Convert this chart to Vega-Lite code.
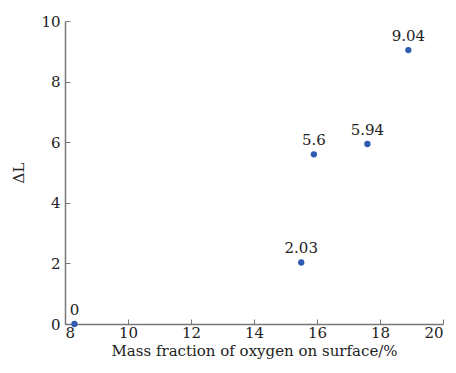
{
  "$schema": "https://vega.github.io/schema/vega-lite/v6.json",
  "width": 378,
  "height": 303,
  "autosize": {"type": "none"},
  "padding": {"left": 65, "top": 21, "right": 13, "bottom": 49},
  "background": "white",
  "config": {
    "view": {"stroke": null},
    "font": "DejaVu Serif",
    "axis": {
      "domainColor": "#777777",
      "tickColor": "#777777",
      "domainWidth": 1.5,
      "tickWidth": 1,
      "grid": false,
      "labelFont": "DejaVu Serif",
      "titleFont": "DejaVu Serif",
      "labelFontSize": 15,
      "titleFontSize": 15,
      "labelColor": "#222222",
      "titleColor": "#222222",
      "titleFontWeight": "normal"
    }
  },
  "data": {
    "values": [
      {"x": 8.3, "y": 0, "label": "0"},
      {"x": 15.5, "y": 2.03, "label": "2.03"},
      {"x": 15.9, "y": 5.6, "label": "5.6"},
      {"x": 17.6, "y": 5.94, "label": "5.94"},
      {"x": 18.9, "y": 9.04, "label": "9.04"}
    ]
  },
  "layer": [
    {
      "mark": {"type": "point", "filled": true, "size": 40, "color": "#2F5BB0", "opacity": 1},
      "encoding": {
        "x": {
          "field": "x", "type": "quantitative",
          "scale": {"domain": [8, 20], "nice": false, "zero": false},
          "axis": {"values": [8, 10, 12, 14, 16, 18, 20], "tickSize": -5, "labelPadding": 6, "title": "Mass fraction of oxygen on surface/%", "titlePadding": 3}
        },
        "y": {
          "field": "y", "type": "quantitative",
          "scale": {"domain": [0, 10], "nice": false},
          "axis": {"values": [0, 2, 4, 6, 8, 10], "tickSize": -5, "labelPadding": 10, "title": "ΔL", "titlePadding": 14}
        }
      }
    },
    {
      "mark": {"type": "text", "dy": -14, "fontSize": 15, "color": "#222222", "font": "DejaVu Serif"},
      "encoding": {
        "x": {"field": "x", "type": "quantitative"},
        "y": {"field": "y", "type": "quantitative"},
        "text": {"field": "label"}
      }
    }
  ]
}
